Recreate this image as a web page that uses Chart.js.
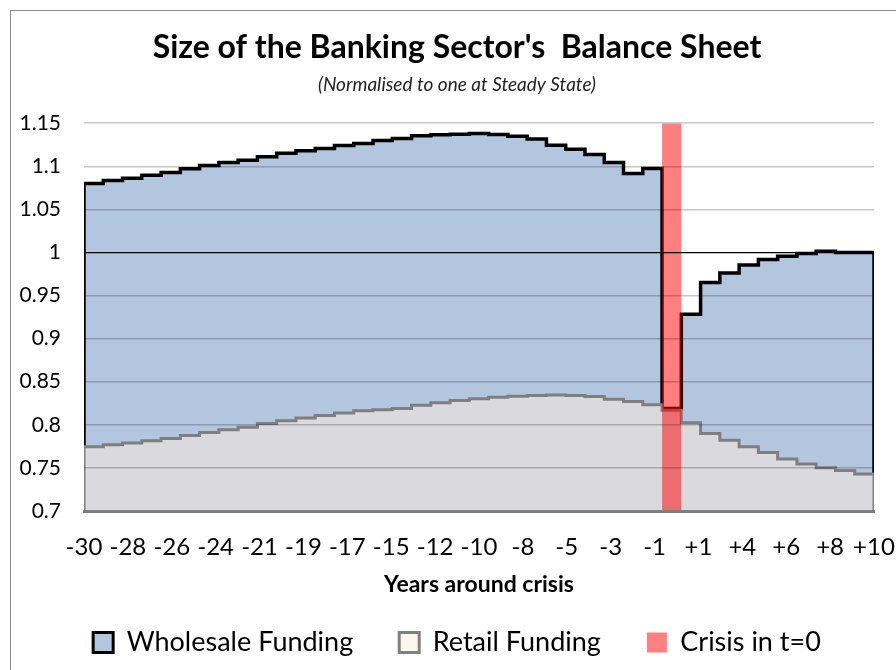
<!DOCTYPE html>
<html>
<head>
<meta charset="utf-8">
<script src="https://cdn.jsdelivr.net/npm/chart.js@4.4.1/dist/chart.umd.min.js"></script>
<style>
  html, body { margin: 0; padding: 0; background: #fff; overflow: hidden; }
  #frame {
    position: absolute; left: 10px; top: 10px; width: 1000px; height: 1000px;
    border-left: 1px solid #8c8c8c; border-top: 1px solid #8c8c8c;
  }
  #wrap { position: absolute; left: 0; top: 0; width: 896px; height: 670px; }
</style>
</head>
<body>
<div id="frame"></div>
<div id="wrap"><canvas id="balanceChart" width="896" height="670"></canvas></div>
<script>
// years around the crisis, one step per year
const years = [-30, -29, -28, -27, -26, -25, -24, -23, -22, -21, -20, -19, -18, -17, -16, -15,
  -14, -13, -12, -11, -10, -9, -8, -7, -6, -5, -4, -3, -2, -1, 0, 1, 2, 3, 4, 5, 6, 7, 8, 9, 10];

const tickLabels = ["-30", "-28", "-26", "-24", "-21", "-19", "-17", "-15", "-12", "-10",
  "-8", "-5", "-3", "-1", "+1", "+4", "+6", "+8", "+10"];

// total balance sheet (top of wholesale funding area)
const wholesale = [1.080, 1.0835, 1.086, 1.0897, 1.0928, 1.097, 1.101, 1.1044, 1.107, 1.111,
  1.115, 1.118, 1.1206, 1.124, 1.1265, 1.130, 1.1322, 1.1353, 1.1365, 1.1372,
  1.138, 1.1368, 1.1349, 1.1318, 1.1245, 1.1198, 1.1137, 1.1044, 1.0916, 1.0974,
  0.819, 0.9284, 0.9652, 0.9763, 0.9856, 0.9919, 0.9957, 0.9988, 1.0015, 1.000, 1.000];

// retail funding
const retail = [0.7745, 0.7768, 0.7788, 0.7815, 0.7842, 0.7877, 0.7912, 0.7942, 0.7973, 0.8016,
  0.8046, 0.8078, 0.8109, 0.8136, 0.8162, 0.8175, 0.819, 0.8228, 0.8255, 0.8283,
  0.8302, 0.8321, 0.8333, 0.8341, 0.8345, 0.834, 0.833, 0.8298, 0.8271, 0.8232,
  0.817, 0.8023, 0.790, 0.7822, 0.7745, 0.768, 0.7602, 0.7544, 0.7501, 0.7471, 0.7428];

const crisisYear = 0;
const yMin = 0.7;
const yMax = 1.15;

const seriesNames = ["Wholesale Funding", "Retail Funding", "Crisis in t=0"];

const FONT = "Lato, 'Liberation Sans', sans-serif";

const xEnd = years[years.length - 1] + 1;
const last = years.length - 1;

// stepped area outlines, closed down the left and right edges
const wholesalePts = [{ x: years[0], y: retail[0] }]
  .concat(years.map((yr, i) => ({ x: yr, y: wholesale[i] })))
  .concat([{ x: xEnd, y: wholesale[last] }, { x: xEnd, y: retail[last] }]);

const retailPts = [{ x: years[0], y: yMin }]
  .concat(years.map((yr, i) => ({ x: yr, y: retail[i] })))
  .concat([{ x: xEnd, y: retail[last] }, { x: xEnd, y: yMin }]);

const crisisPts = [{ x: crisisYear, y: yMax }, { x: crisisYear + 1, y: yMax }];

const legendColors = [
  { fill: "#b3c6e0", stroke: "#000000", width: 3 },
  { fill: "#fdf6ee", stroke: "#808080", width: 3 },
  { fill: "#ff8080", stroke: "#ff8080", width: 0 },
];

const ctx = document.getElementById("balanceChart").getContext("2d");

new Chart(ctx, {
  type: "line",
  data: {
    datasets: [
      {
        label: seriesNames[0],
        data: wholesalePts,
        stepped: "before",
        borderColor: "#000000",
        borderWidth: 3.5,
        backgroundColor: "#b3c6e0",
        fill: "start",
        pointRadius: 0,
        order: 3,
      },
      {
        label: seriesNames[1],
        data: retailPts,
        stepped: "before",
        borderColor: "#7f7f7f",
        borderWidth: 3,
        backgroundColor: "#d9d9de",
        fill: "start",
        pointRadius: 0,
        order: 2,
      },
      {
        label: seriesNames[2],
        data: crisisPts,
        stepped: "before",
        borderWidth: 0,
        borderColor: "rgba(255,0,0,0)",
        backgroundColor: "rgba(255,0,0,0.5)",
        fill: "start",
        pointRadius: 0,
        order: 1,
      },
    ],
  },
  options: {
    responsive: false,
    animation: false,
    layout: { padding: { top: 10, left: 18, right: 0, bottom: 4 } },
    plugins: {
      tooltip: { enabled: false },
      title: {
        display: true,
        text: "Size of the Banking Sector's  Balance Sheet",
        color: "#000",
        font: { family: FONT, size: 32, weight: "bold" },
        padding: { top: 18, bottom: 7 },
      },
      subtitle: {
        display: true,
        text: "(Normalised to one at Steady State)",
        color: "#222",
        font: { family: FONT, size: 19, style: "italic" },
        padding: { top: 0, bottom: 27 },
      },
      legend: {
        position: "bottom",
        labels: {
          color: "#000",
          font: { family: FONT, size: 27 },
          boxWidth: 20,
          boxHeight: 20,
          padding: 46,
          generateLabels: (chart) =>
            chart.data.datasets.map((ds, i) => ({
              text: ds.label,
              fillStyle: legendColors[i].fill,
              strokeStyle: legendColors[i].stroke,
              lineWidth: legendColors[i].width,
              datasetIndex: i,
              hidden: false,
            })),
        },
      },
    },
    scales: {
      x: {
        type: "linear",
        min: years[0],
        max: xEnd,
        afterBuildTicks: (axis) => {
          const n = tickLabels.length;
          axis.ticks = tickLabels.map((_, i) => ({
            value: axis.min + (i * (axis.max - axis.min)) / (n - 1),
          }));
        },
        afterFit: (scale) => {
          scale.height = 72;
          scale.paddingLeft = 0;
          scale.paddingRight = 22;
        },
        ticks: {
          autoSkip: false,
          maxRotation: 0,
          color: "#000",
          font: { family: FONT, size: 24 },
          padding: 22,
          callback: (v, i) => tickLabels[i],
        },
        grid: { display: false, drawTicks: false },
        border: { display: true, color: "#7f7f7f", width: 3, z: 2 },
        title: {
          display: true,
          text: "Years around crisis",
          color: "#000",
          font: { family: FONT, size: 23, weight: "bold" },
          padding: { top: 0, bottom: -15 },
        },
      },
      y: {
        min: yMin,
        max: yMax,
        afterFit: (scale) => {
          scale.width = 66;
        },
        ticks: {
          stepSize: 0.05,
          color: "#000",
          font: { family: FONT, size: 21 },
          padding: 23,
          callback: (v) => String(Number(v.toFixed(2))),
        },
        grid: {
          z: 1,
          drawTicks: false,
          color: (c) => (Math.abs(c.tick.value - 1) < 1e-6 ? "#000000" : "rgba(0,0,0,0.22)"),
          lineWidth: (c) => (Math.abs(c.tick.value - 1) < 1e-6 ? 1.2 : 1.5),
        },
        border: { display: false },
      },
    },
  },
});
</script>
</body>
</html>
